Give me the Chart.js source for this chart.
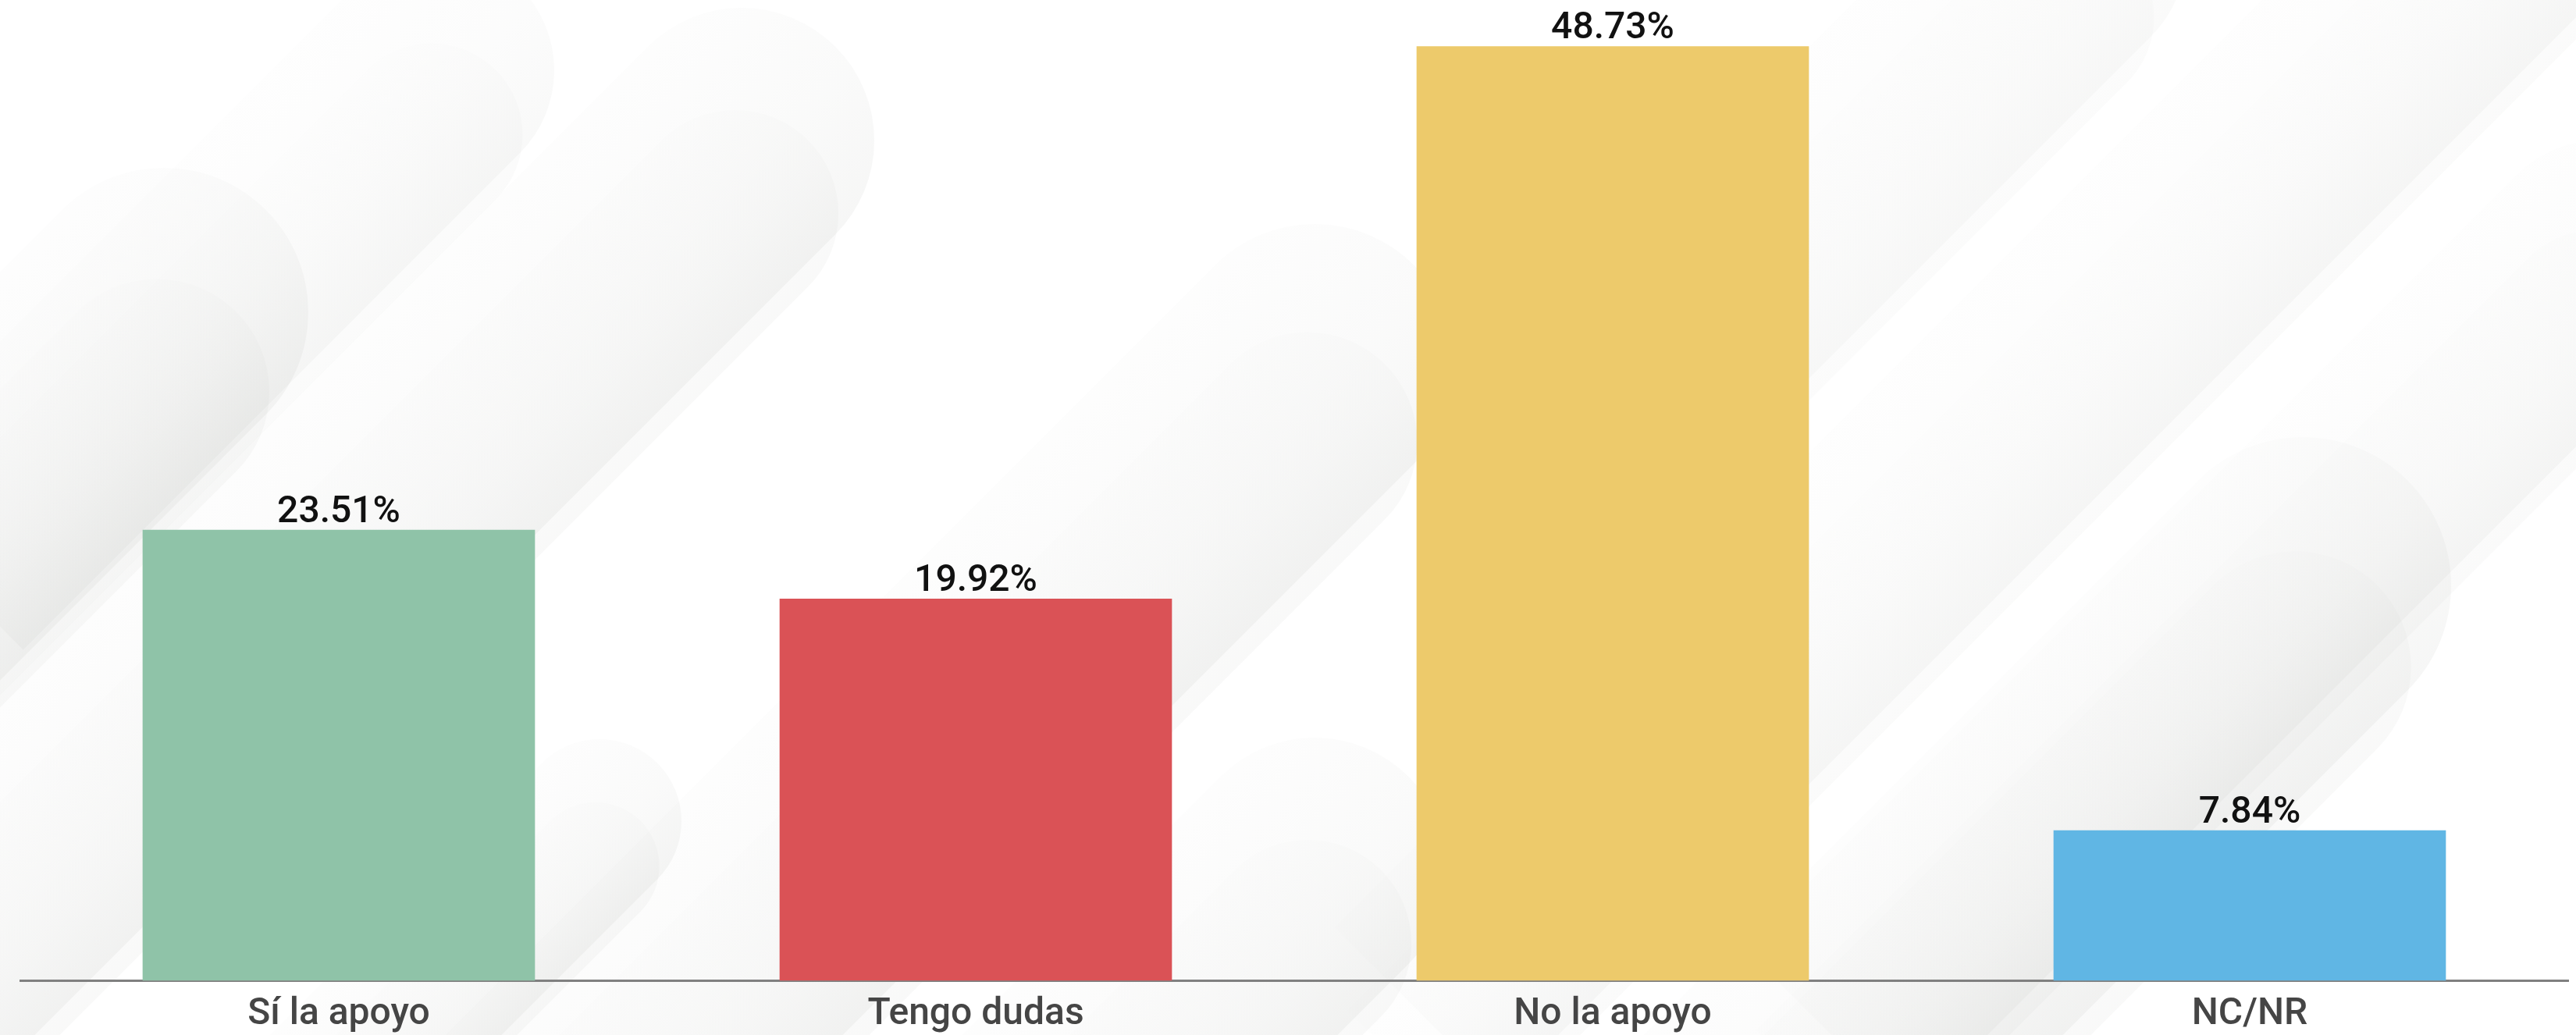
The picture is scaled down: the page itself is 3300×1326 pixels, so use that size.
<!DOCTYPE html>
<html lang="es">
<head>
<meta charset="utf-8">
<title>Apoyo</title>
<script src="https://cdn.jsdelivr.net/npm/chart.js@4.4.1/dist/chart.umd.min.js"></script>
<style>
  html, body { margin: 0; padding: 0; background: #ffffff; }
  #wrap { width: 3300px; height: 1326px; }
</style>
</head>
<body>
<div id="wrap"><canvas id="apoyoChart" width="3300" height="1326"></canvas></div>
<script>
// datos de la encuesta
const categories = ['Sí la apoyo', 'Tengo dudas', 'No la apoyo', 'NC/NR'];
const values = [23.51, 19.92, 48.73, 7.84];
const barColors = ['#8FC3A8', '#DA5256', '#EDCA6B', '#60B6E4'];

// fondo decorativo: cápsulas diagonales grises
const capsules = [
    { x: 560, y: 90, r: 150, len: 900, k: 0.7 },
    { x: 210, y: 400, r: 185, len: 1400, k: 1 },
    { x: 950, y: 180, r: 170, len: 1600, k: 1 },
    { x: 1684, y: 467, r: 180, len: 1600, k: 1 },
    { x: 768, y: 1052, r: 105, len: 600, k: 1 },
    { x: 1684, y: 1115, r: 170, len: 600, k: 1 },
    { x: 2650, y: -60, r: 150, len: 900, k: 0.6 },
    { x: 3230, y: -120, r: 150, len: 2000, k: 0.7 },
    { x: 2950, y: 750, r: 190, len: 1200, k: 1 },
    { x: 3330, y: 330, r: 150, len: 1400, k: 0.8 }
];

function drawCapsule(ctx, c, r, shade) {
    ctx.save();
    ctx.translate(c.x, c.y);
    ctx.rotate(Math.PI / 4);
    const g = ctx.createLinearGradient(-r, 0, r, 0);
    g.addColorStop(0, 'rgba(95,100,90,' + (0.012 * shade) + ')');
    g.addColorStop(0.6, 'rgba(95,100,90,' + (0.03 * shade) + ')');
    g.addColorStop(1, 'rgba(95,100,90,' + (0.055 * shade) + ')');
    ctx.fillStyle = g;
    ctx.beginPath();
    ctx.arc(0, 0, r, Math.PI, 2 * Math.PI);
    ctx.lineTo(r, c.len);
    ctx.lineTo(-r, c.len);
    ctx.closePath();
    ctx.fill();
    ctx.restore();
}

const backgroundPattern = {
    id: 'backgroundPattern',
    beforeDraw(chart) {
        const ctx = chart.ctx;
        ctx.save();
        ctx.fillStyle = '#ffffff';
        ctx.fillRect(0, 0, chart.width, chart.height);
        capsules.forEach(c => {
            drawCapsule(ctx, c, c.r, c.k);
            // banda interior
            const inner = { x: c.x - c.r * 0.05, y: c.y + c.r * 0.55, len: c.len };
            drawCapsule(ctx, inner, c.r * 0.78, 0.7 * c.k);
        });
        ctx.restore();
    }
};

// porcentaje encima de cada barra
const valueLabels = {
    id: 'valueLabels',
    afterDatasetsDraw(chart) {
        const ctx = chart.ctx;
        const meta = chart.getDatasetMeta(0);
        ctx.save();
        ctx.font = '500 48px Roboto';
        ctx.fillStyle = '#111111';
        ctx.textAlign = 'center';
        ctx.textBaseline = 'alphabetic';
        meta.data.forEach((bar, i) => {
            ctx.fillText(values[i].toFixed(2) + '%', bar.x, bar.y - 10);
        });
        ctx.restore();
    }
};

function renderChart() {
    new Chart(document.getElementById('apoyoChart'), {
        type: 'bar',
        data: {
            labels: categories,
            datasets: [{
                data: values,
                backgroundColor: barColors,
                borderWidth: 0,
                categoryPercentage: 1,
                barPercentage: 0.616
            }]
        },
        options: {
            responsive: false,
            animation: false,
            devicePixelRatio: 1,
            layout: { padding: { top: 28, left: 26, right: 10, bottom: 0 } },
            plugins: {
                legend: { display: false },
                tooltip: { enabled: false }
            },
            scales: {
                x: {
                    grid: { display: false, drawTicks: false },
                    border: { display: true, color: '#808080', width: 3 },
                    ticks: {
                        color: '#454545',
                        padding: 15,
                        font: { family: 'Roboto', size: 48, weight: '500' }
                    },
                    afterFit(scale) {
                        scale.height = 69.5;
                    }
                },
                y: {
                    display: false,
                    min: 0,
                    max: 50
                }
            }
        },
        plugins: [backgroundPattern, valueLabels]
    });
}

document.fonts.load('500 48px Roboto').then(renderChart, renderChart);
</script>
</body>
</html>
